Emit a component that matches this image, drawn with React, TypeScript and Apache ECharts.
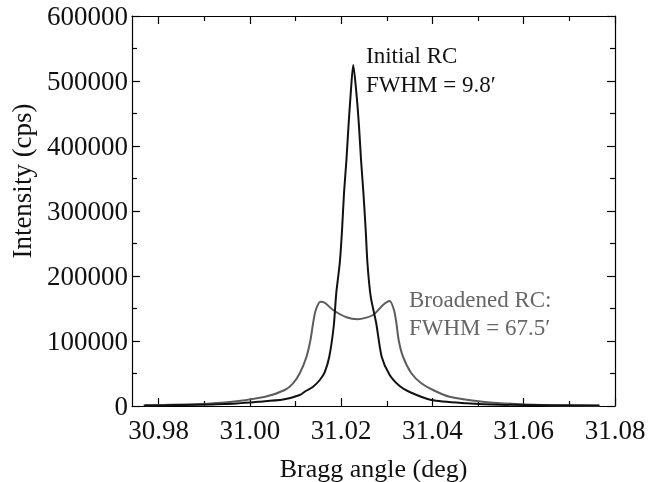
import React, { useEffect, useRef } from "react";
import * as echarts from "echarts";

const FONT = "Liberation Serif";

const X_MIN = 30.97418;
const X_MAX = 31.08;
const xMajorTicks = [30.98, 31.0, 31.02, 31.04, 31.06, 31.08];
const xMinorTicks = [30.99, 31.01, 31.03, 31.05, 31.07];
const Y_MIN = 0;
const Y_MAX = 600000;
const Y_STEP = 100000;

const initialX = [30.97674, 30.9814, 30.99453, 31.0019, 31.00729, 31.01094, 31.01225, 31.01379, 31.01532, 31.01641,
  31.0174, 31.01838, 31.01893, 31.0197, 31.0202, 31.02063, 31.02116, 31.0216, 31.0221, 31.02265,
  31.02335, 31.02392, 31.02436, 31.02488, 31.02538, 31.02576, 31.02648, 31.02768, 31.02888, 31.03064,
  31.03282, 31.03501, 31.03976, 31.04742, 31.0547, 31.07659];
const initialY = [800, 1100, 3100, 6600, 10000, 16900, 23100, 29200, 40000, 52300,
  75800, 123100, 173800, 220000, 270800, 327700, 378500, 429700, 481000, 524600,
  481000, 429700, 378500, 327700, 270800, 220000, 168200, 127700, 75800, 47700,
  30800, 21500, 9200, 4150, 1850, 800];

const broadX = [30.97702, 30.98877, 30.99606, 31.00335, 31.00766, 31.00947, 31.01094, 31.01241, 31.01328, 31.01385,
  31.01444, 31.01547, 31.01641, 31.01823, 31.02116, 31.02363, 31.02698, 31.02917, 31.03064, 31.03158, 31.0321,
  31.0326, 31.03355, 31.03538, 31.03757, 31.04011, 31.04376, 31.05099, 31.05836, 31.06565, 31.07659];
const broadY = [1000, 3000, 6600, 14300, 24600, 34900, 50300, 75800, 101500, 127200,
  147700, 160500, 158900, 147700, 136500, 133400, 140000, 155400, 161500, 147700, 127700,
  101500, 75800, 50300, 34900, 24600, 14300, 6600, 3100, 1100, 500];

const initialLabel = ["Initial RC", "FWHM = 9.8\u2032"];
const broadLabel = ["Broadened RC:", "FWHM = 67.5\u2032"];

export default function App() {
  const ref = useRef<HTMLDivElement>(null);
  useEffect(() => {
    if (!ref.current) return;
    const chart = echarts.init(ref.current, null, { renderer: "svg" });
    const lineCol = "#000";
    const mkX = (pos: string, values: number[], len: number, main: boolean, labels: boolean) => ({
      type: "value",
      position: pos,
      min: X_MIN,
      max: X_MAX,
      axisLine: { show: main, onZero: false, lineStyle: { color: lineCol, width: 1.2 } },
      axisTick: { show: true, inside: true, length: len, customValues: values, lineStyle: { color: lineCol, width: 1.2 } },
      axisLabel: labels
        ? { show: true, customValues: values, formatter: (v: number) => v.toFixed(2), fontFamily: FONT, fontSize: 27, color: "#111", margin: 10 }
        : { show: false },
      splitLine: { show: false },
      ...(labels
        ? { name: "Bragg angle (deg)", nameLocation: "middle", nameGap: 49, nameTextStyle: { fontFamily: FONT, fontSize: 26, color: "#111" } }
        : {}),
    });
    const mkY = (pos: string, labels: boolean) => ({
      type: "value",
      position: pos,
      min: Y_MIN,
      max: Y_MAX,
      interval: Y_STEP,
      axisLine: { show: true, onZero: false, lineStyle: { color: lineCol, width: 1.2 } },
      axisTick: { show: true, inside: true, length: 8, lineStyle: { color: lineCol, width: 1.2 } },
      minorTick: { show: true, splitNumber: 2, length: 5, lineStyle: { color: lineCol, width: 1.2 } },
      axisLabel: labels
        ? { show: true, formatter: (v: number) => String(v), fontFamily: FONT, fontSize: 27, color: "#111", margin: 4 }
        : { show: false },
      splitLine: { show: false },
      minorSplitLine: { show: false },
    });
    const option: any = {
      animation: false,
      textStyle: { fontFamily: FONT },
      grid: { left: 132, right: 34, top: 16, bottom: 76, containLabel: false, outerBoundsMode: "none" },
      xAxis: [
        mkX("bottom", xMajorTicks, 8, true, true),
        mkX("bottom", xMinorTicks, 5, false, false),
        mkX("top", xMajorTicks, 8, true, false),
        mkX("top", xMinorTicks, 5, false, false),
      ],
      yAxis: [mkY("left", true), mkY("right", false)],
      series: [
        {
          type: "line",
          name: "Broadened RC",
          data: broadX.map((x, i) => [x, broadY[i]]),
          showSymbol: false,
          smooth: 0.25,
          lineStyle: { color: "#5c5c5c", width: 2 },
          z: 2,
        },
        {
          type: "line",
          name: "Initial RC",
          data: initialX.map((x, i) => [x, initialY[i]]),
          showSymbol: false,
          smooth: 0.25,
          lineStyle: { color: "#111", width: 2 },
          z: 3,
        },
      ],
      graphic: [
        {
          type: "text",
          x: 22,
          y: 181,
          rotation: Math.PI / 2,
          style: { text: "Intensity (cps)", fontFamily: FONT, fontSize: 27, fill: "#111", align: "center", verticalAlign: "middle" },
        },
        { type: "text", x: 366, y: 44, style: { text: initialLabel[0], fontFamily: FONT, fontSize: 23, fill: "#111" } },
        { type: "text", x: 366, y: 73, style: { text: initialLabel[1], fontFamily: FONT, fontSize: 23, fill: "#111" } },
        { type: "text", x: 409, y: 288, style: { text: broadLabel[0], fontFamily: FONT, fontSize: 23, fill: "#666" } },
        { type: "text", x: 409, y: 316, style: { text: broadLabel[1], fontFamily: FONT, fontSize: 23, fill: "#666" } },
      ],
    };
    chart.setOption(option);
    return () => chart.dispose();
  }, []);
  return <div ref={ref} style={{ position: "fixed", left: 0, top: 0, width: 649, height: 482 }} />;
}
